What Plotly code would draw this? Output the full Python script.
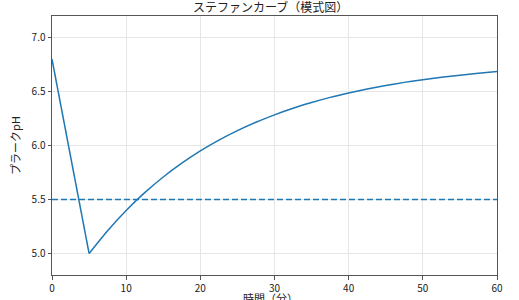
import plotly.graph_objects as go

# Data
drop_t = [0, 5]
drop_ph = [6.8, 5.0]
recovery_t = [5, 7.5, 10, 12.5, 15, 17.5, 20, 22.5, 25, 27.5, 30, 32.5, 35,
              37.5, 40, 42.5, 45, 47.5, 50, 52.5, 55, 57.5, 60]
recovery_ph = [5.000, 5.211, 5.398, 5.563, 5.708, 5.836, 5.950, 6.050, 6.138,
               6.216, 6.284, 6.345, 6.398, 6.446, 6.487, 6.524, 6.556, 6.585,
               6.610, 6.633, 6.652, 6.670, 6.685]
critical_ph = 5.5
x_range = [0, 60]
y_range = [4.8, 7.2]
x_ticks = [0, 10, 20, 30, 40, 50, 60]
y_ticks = [5.0, 5.5, 6.0, 6.5, 7.0]

color = "#1f77b4"
font = "Noto Sans CJK JP"

fig = go.Figure()
fig.add_trace(go.Scatter(x=drop_t, y=drop_ph, mode="lines",
                         line=dict(color=color, width=1.5), showlegend=False))
fig.add_trace(go.Scatter(x=recovery_t, y=recovery_ph, mode="lines",
                         line=dict(color=color, width=1.5, shape="spline", smoothing=0.6),
                         showlegend=False))
fig.add_trace(go.Scatter(x=x_range, y=[critical_ph, critical_ph], mode="lines",
                         line=dict(color=color, width=1.5, dash="6px,3px"),
                         showlegend=False))

axis_common = dict(showgrid=True, gridcolor="#e6e6e6", gridwidth=1,
                   showline=True, linecolor="#555555", linewidth=1, mirror=True,
                   ticks="outside", ticklen=3.5, tickcolor="#555555", zeroline=False,
                   automargin=False,
                   tickfont=dict(family=font, size=10, color="#222222"))

fig.update_layout(
    width=519, height=300,
    margin=dict(l=52, r=22, t=16, b=25),
    paper_bgcolor="white", plot_bgcolor="white",
    font=dict(family=font, size=10, color="#222222"),
    xaxis=dict(range=x_range, tickvals=x_ticks, **axis_common),
    yaxis=dict(range=y_range, tickvals=y_ticks, tickformat=".1f",
               title=dict(text="プラークpH", standoff=8, font=dict(family=font, size=11)),
               **axis_common),
    annotations=[
        dict(text="ステファンカーブ（模式図）", xref="paper", yref="paper",
             x=0.49, y=1, yshift=-1, xanchor="center", yanchor="bottom",
             showarrow=False, font=dict(family=font, size=12, color="#222222")),
        dict(text="時間（分）", xref="paper", yref="paper",
             x=0.49, y=0, yshift=-23, xanchor="center", yanchor="middle",
             showarrow=False, font=dict(family=font, size=11, color="#222222")),
    ],
)

fig.write_html("out.html")
